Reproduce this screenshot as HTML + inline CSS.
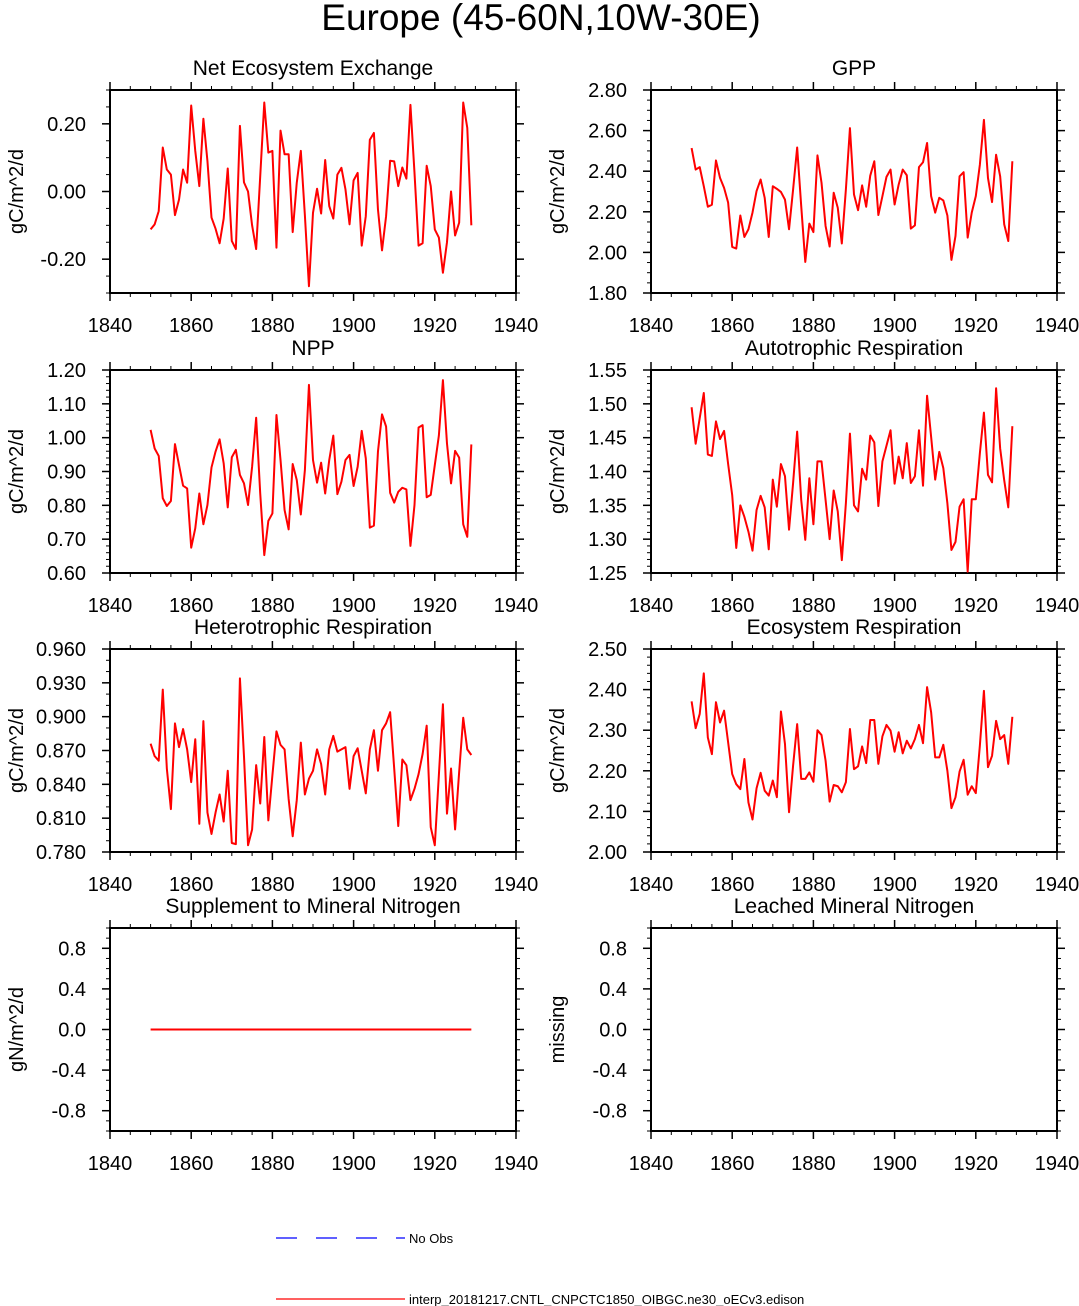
<!DOCTYPE html>
<html><head><meta charset="utf-8"><style>
html,body{margin:0;padding:0;background:#fff;}
svg{display:block;font-family:"Liberation Sans",Arial,sans-serif;}
</style></head><body>
<svg id="chart" width="1079" height="1306" viewBox="0 0 1079 1306" xmlns="http://www.w3.org/2000/svg">
<text x="541" y="30" font-size="37" text-anchor="middle">Europe (45-60N,10W-30E)</text>
<g>
<line x1="276" y1="1238" x2="405" y2="1238" stroke="#0000ff" stroke-width="1.3" stroke-dasharray="21,19"/>
<text x="409" y="1243" font-size="13">No Obs</text>
<line x1="276" y1="1299" x2="405" y2="1299" stroke="#ff0000" stroke-width="1.3"/>
<text x="409" y="1304" font-size="13">interp_20181217.CNTL_CNPCTC1850_OIBGC.ne30_oECv3.edison</text>
</g>
</svg>
<script>
const years = Array.from({length:80},(_,i)=>1850+i);
const xTicks = [1840,1860,1880,1900,1920,1940];
const neeVals = [-0.112,-0.097,-0.058,0.13,0.065,0.05,-0.07,-0.024,0.065,0.026,0.254,0.12,0.016,0.215,0.09,-0.077,-0.11,-0.153,-0.08,0.068,-0.146,-0.17,0.194,0.027,0.0,-0.1,-0.17,0.045,0.263,0.115,0.12,-0.166,0.18,0.11,0.11,-0.12,0.026,0.12,-0.07,-0.28,-0.063,0.008,-0.065,0.093,-0.043,-0.08,0.05,0.07,0.006,-0.097,0.033,0.055,-0.16,-0.073,0.153,0.173,-0.053,-0.174,-0.073,0.091,0.089,0.016,0.071,0.038,0.256,0.055,-0.16,-0.153,0.076,0.016,-0.112,-0.136,-0.24,-0.15,0.0,-0.13,-0.092,0.263,0.188,-0.1];
const gppVals = [2.514,2.408,2.42,2.326,2.225,2.235,2.453,2.367,2.318,2.245,2.027,2.019,2.182,2.076,2.114,2.196,2.302,2.359,2.269,2.076,2.326,2.313,2.298,2.26,2.114,2.31,2.517,2.228,1.953,2.142,2.10,2.478,2.343,2.13,2.029,2.294,2.22,2.044,2.31,2.612,2.285,2.208,2.33,2.225,2.378,2.449,2.184,2.277,2.372,2.408,2.236,2.334,2.408,2.38,2.117,2.133,2.42,2.444,2.539,2.277,2.196,2.269,2.256,2.182,1.963,2.081,2.375,2.395,2.073,2.196,2.277,2.432,2.653,2.367,2.248,2.481,2.375,2.138,2.056,2.449];
const nppVals = [1.023,0.968,0.946,0.821,0.798,0.813,0.981,0.919,0.858,0.850,0.675,0.732,0.835,0.744,0.801,0.912,0.959,0.995,0.924,0.794,0.942,0.964,0.890,0.865,0.801,0.914,1.059,0.835,0.653,0.754,0.776,1.067,0.934,0.786,0.729,0.922,0.875,0.773,0.904,1.156,0.934,0.867,0.926,0.835,0.934,1.006,0.833,0.870,0.934,0.949,0.857,0.914,1.020,0.939,0.734,0.740,0.959,1.069,1.033,0.837,0.808,0.840,0.852,0.847,0.680,0.801,1.030,1.037,0.824,0.831,0.919,1.006,1.170,0.983,0.865,0.961,0.941,0.744,0.707,0.980];
const arVals = [1.495,1.441,1.479,1.516,1.425,1.423,1.474,1.448,1.460,1.411,1.365,1.287,1.350,1.333,1.311,1.283,1.343,1.364,1.347,1.285,1.388,1.348,1.411,1.393,1.314,1.383,1.459,1.358,1.299,1.390,1.322,1.415,1.415,1.358,1.300,1.372,1.341,1.269,1.353,1.456,1.350,1.341,1.404,1.388,1.453,1.443,1.349,1.415,1.438,1.461,1.382,1.422,1.390,1.442,1.383,1.393,1.461,1.379,1.512,1.451,1.388,1.429,1.405,1.353,1.284,1.296,1.348,1.359,1.252,1.359,1.359,1.427,1.487,1.395,1.384,1.523,1.434,1.387,1.347,1.467];
const hrVals = [0.876,0.865,0.861,0.924,0.854,0.818,0.894,0.873,0.889,0.871,0.842,0.880,0.805,0.896,0.815,0.796,0.815,0.831,0.807,0.852,0.788,0.787,0.934,0.865,0.786,0.800,0.857,0.823,0.882,0.808,0.848,0.887,0.875,0.871,0.827,0.794,0.826,0.877,0.831,0.845,0.852,0.871,0.858,0.831,0.871,0.883,0.869,0.871,0.873,0.836,0.865,0.872,0.852,0.832,0.871,0.888,0.852,0.888,0.894,0.904,0.854,0.803,0.862,0.857,0.826,0.836,0.849,0.867,0.892,0.802,0.786,0.848,0.911,0.814,0.854,0.800,0.851,0.899,0.871,0.866];
const erVals = [2.371,2.305,2.340,2.440,2.282,2.241,2.369,2.319,2.348,2.270,2.192,2.167,2.155,2.229,2.122,2.080,2.157,2.195,2.151,2.139,2.176,2.135,2.346,2.266,2.098,2.213,2.315,2.180,2.180,2.196,2.173,2.300,2.288,2.225,2.124,2.165,2.162,2.147,2.172,2.303,2.204,2.211,2.260,2.219,2.325,2.325,2.217,2.285,2.313,2.299,2.247,2.295,2.243,2.274,2.255,2.278,2.313,2.268,2.406,2.344,2.233,2.233,2.264,2.200,2.108,2.135,2.198,2.227,2.141,2.162,2.145,2.262,2.397,2.209,2.237,2.323,2.278,2.288,2.217,2.333];
const smnVals = years.map(()=>0.0);
const neeTicks = ["-0.20","0.00","0.20"];
const gppTicks = ["1.80","2.00","2.20","2.40","2.60","2.80"];
const nppTicks = ["0.60","0.70","0.80","0.90","1.00","1.10","1.20"];
const arTicks = ["1.25","1.30","1.35","1.40","1.45","1.50","1.55"];
const hrTicks = ["0.780","0.810","0.840","0.870","0.900","0.930","0.960"];
const erTicks = ["2.00","2.10","2.20","2.30","2.40","2.50"];
const nTicks = ["-0.8","-0.4","0.0","0.4","0.8"];

const svg = document.getElementById('chart');
const NS = 'http://www.w3.org/2000/svg';
function mk(tag, attrs, parent){
  const e = document.createElementNS(NS, tag);
  for (const k in attrs) e.setAttribute(k, attrs[k]);
  parent.appendChild(e);
  return e;
}
function panel(cfg){
  const g = mk('g', {}, svg);
  
  
  const L = cfg.x, T = cfg.y, W = 406, H = 203;
  const xs = v => L + (v - 1840) / 100 * W;
  const ys = v => T + H - (v - cfg.min) / (cfg.max - cfg.min) * H;
  for (let yr = 1845; yr < 1940; yr += 5) {
    if (yr % 20 === 0) continue;
    const t1 = mk('line', {x1:xs(yr), y1:T+H, x2:xs(yr), y2:T+H+4, stroke:'#000', 'stroke-width':1}, g);
    
    
    const t2 = mk('line', {x1:xs(yr), y1:T, x2:xs(yr), y2:T-4, stroke:'#000', 'stroke-width':1}, g);
    
    
  }
  xTicks.forEach(yr => {
    const t = mk('line', {x1:xs(yr), y1:T+H, x2:xs(yr), y2:T+H+8, stroke:'#000', 'stroke-width':1.5}, g);
    
    
    const t2 = mk('line', {x1:xs(yr), y1:T, x2:xs(yr), y2:T-8, stroke:'#000', 'stroke-width':1.5}, g);
    
    
    const lb = mk('text', {x:xs(yr), y:T+H+39, 'font-size':20, 'text-anchor':'middle'}, g);
    lb.textContent = yr;
    
    
  });
  const nm = Math.round((cfg.max - cfg.min) / cfg.minor);
  for (let i = 0; i <= nm; i++) {
    const v = cfg.min + i * cfg.minor;
    const yy = ys(v);
    [[L, L-4],[L+W, L+W+4]].forEach(p => {
      const t = mk('line', {x1:p[0], y1:yy, x2:p[1], y2:yy, stroke:'#000', 'stroke-width':1}, g);
      
      
    });
  }
  cfg.ticks.forEach(lab => {
    const v = parseFloat(lab);
    const yy = ys(v);
    [[L, L-8],[L+W, L+W+8]].forEach(p => {
      const t = mk('line', {x1:p[0], y1:yy, x2:p[1], y2:yy, stroke:'#000', 'stroke-width':1.5}, g);
      
      
    });
    const lb = mk('text', {x:L-24, y:yy+7, 'font-size':20, 'text-anchor':'end'}, g);
    lb.textContent = lab;
    
    
  });
  const fr = mk('rect', {x:L, y:T, width:W, height:H, fill:'none', stroke:'#000', 'stroke-width':2}, g);
  
  
  const tt = mk('text', {x:L+W/2, y:T-15, 'font-size':21, 'text-anchor':'middle'}, g);
  tt.textContent = cfg.title;
  
  
  const cy = T + H/2;
  const yt = mk('text', {x:L-87, y:cy, 'font-size':20, 'text-anchor':'middle', transform:'rotate(-90 '+(L-87)+' '+cy+')'}, g);
  yt.textContent = cfg.ylab;
  
  
  if (cfg.vals) {
    const d = cfg.vals.map((v,i) => (i?'L':'M') + xs(years[i]).toFixed(2) + ' ' + ys(v).toFixed(2)).join(' ');
    const p = mk('path', {d:d, fill:'none', stroke:'#ff0000', 'stroke-width':2, 'stroke-linejoin':'round'}, g);
    
    
  }
}
panel({id:'nee', x:110, y:90, min:-0.30, max:0.30, minor:0.05, ticks:neeTicks, title:'Net Ecosystem Exchange', ylab:'gC/m^2/d', vals:neeVals});
panel({id:'gpp', x:651, y:90, min:1.80, max:2.80, minor:0.05, ticks:gppTicks, title:'GPP', ylab:'gC/m^2/d', vals:gppVals});
panel({id:'npp', x:110, y:370, min:0.60, max:1.20, minor:0.02, ticks:nppTicks, title:'NPP', ylab:'gC/m^2/d', vals:nppVals});
panel({id:'ar', x:651, y:370, min:1.25, max:1.55, minor:0.01, ticks:arTicks, title:'Autotrophic Respiration', ylab:'gC/m^2/d', vals:arVals});
panel({id:'hr', x:110, y:649, min:0.78, max:0.96, minor:0.01, ticks:hrTicks, title:'Heterotrophic Respiration', ylab:'gC/m^2/d', vals:hrVals});
panel({id:'er', x:651, y:649, min:2.00, max:2.50, minor:0.02, ticks:erTicks, title:'Ecosystem Respiration', ylab:'gC/m^2/d', vals:erVals});
panel({id:'smn', x:110, y:928, min:-1.0, max:1.0, minor:0.1, ticks:nTicks, title:'Supplement to Mineral Nitrogen', ylab:'gN/m^2/d', vals:smnVals});
panel({id:'lmn', x:651, y:928, min:-1.0, max:1.0, minor:0.1, ticks:nTicks, title:'Leached Mineral Nitrogen', ylab:'missing', vals:null});
</script>
</body></html>
